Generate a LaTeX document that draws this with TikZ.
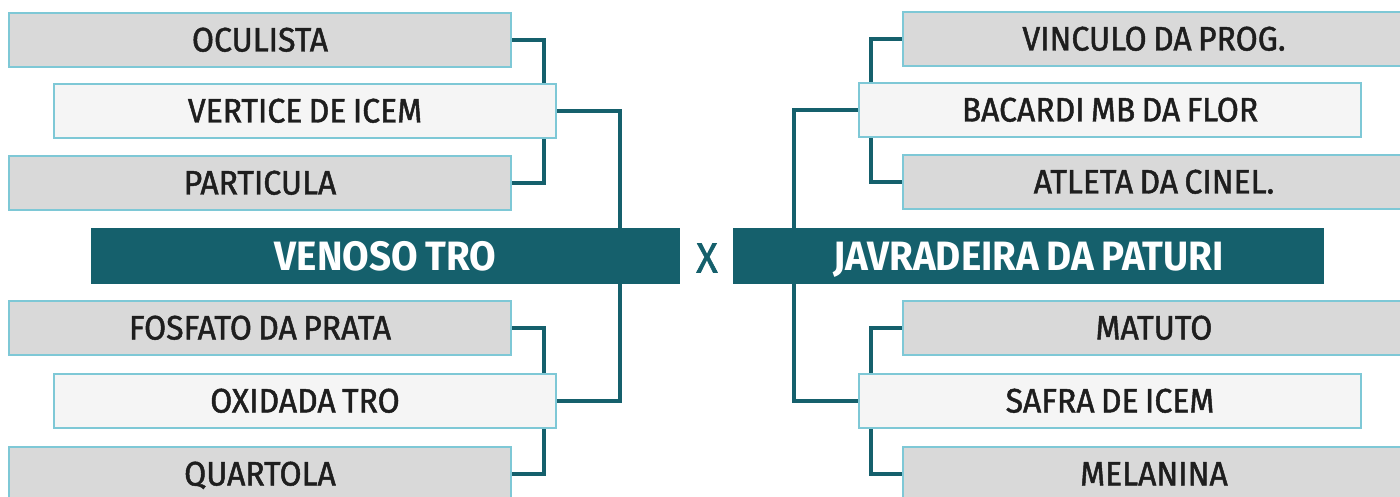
\documentclass[tikz,border=0pt]{standalone}
\usepackage{fontspec}
\setmainfont{Fira Sans}[FakeStretch=0.94, WordSpace=0.8]
\newfontfamily\boxfont{Fira Sans}[FakeStretch=0.94, FakeBold=1.4, WordSpace=0.75]
\usetikzlibrary{backgrounds}
\definecolor{teal1}{HTML}{15606C}
\definecolor{boxgray}{HTML}{D9D9D9}
\definecolor{boxlight}{HTML}{F5F5F5}
\definecolor{boxedge}{HTML}{7EC8D6}
\definecolor{txt}{HTML}{1E1E1E}
\tikzset{
  team/.style={draw=boxedge, line width=2pt, minimum width=502pt, minimum height=54pt,
    inner sep=0pt, text=txt, text height=23pt, text depth=0pt,
    font=\boxfont\fontsize{34}{34}\selectfont},
  teamgray/.style={team, fill=boxgray},
  teamlight/.style={team, fill=boxlight},
  header/.style={fill=teal1, minimum height=55pt, inner sep=0pt, text=white,
    text height=28pt, text depth=0pt,
    font=\fontsize{41}{41}\selectfont\bfseries},
  link/.style={draw=teal1, line width=4pt},
}
\begin{document}
\begin{tikzpicture}[x=1pt,y=-1pt]
\useasboundingbox (0,0) rectangle (1400,497);
% left
\node[teamgray]  (ocu) at (260,40)  {OCULISTA};
\node[teamlight] (ver) at (305,111) {VERTICE DE ICEM};
\node[teamgray]  (par) at (260,183) {PARTICULA};
\node[header, minimum width=589pt] (ven) at (385.5,256) {VENOSO TRO};
\node[teamgray]  (fos) at (260,328) {FOSFATO DA PRATA};
\node[teamlight] (oxi) at (305,401) {OXIDADA TRO};
\node[teamgray]  (qua) at (260,474) {QUARTOLA};
% right
\node[teamgray]  (vin) at (1154,39)  {VINCULO DA PROG.};
\node[teamlight] (bac) at (1110,110) {BACARDI MB DA FLOR};
\node[teamgray]  (atl) at (1154,182) {ATLETA DA CINEL.};
\node[header, minimum width=591pt] (jav) at (1028.5,256) {JAVRADEIRA DA PATURI};
\node[teamgray]  (mat) at (1154,328) {MATUTO};
\node[teamlight] (saf) at (1110,401) {SAFRA DE ICEM};
\node[teamgray]  (mel) at (1154,474) {MELANINA};
% versus
\node[text=teal1, font=\boxfont\fontsize{42}{42}\selectfont, inner sep=0pt] (vs) at (707,258) {X};
\begin{scope}[on background layer]
\draw[link] (ocu.east) -- ++(32,0) coordinate (c1) -- (c1 |- par.east) -- (par.east);
\draw[link] (ver.east) -- ++(63,0) coordinate (c2) -- (c2 |- ven.north);
\draw[link] (fos.east) -- ++(32,0) coordinate (c3) -- (c3 |- qua.east) -- (qua.east);
\draw[link] (oxi.east) -- ++(63,0) coordinate (c4) -- (c4 |- ven.south);
\draw[link] (vin.west) -- ++(-31,0) coordinate (c5) -- (c5 |- atl.west) -- (atl.west);
\draw[link] (bac.west) -- ++(-64,0) coordinate (c6) -- (c6 |- jav.north);
\draw[link] (mat.west) -- ++(-31,0) coordinate (c7) -- (c7 |- mel.west) -- (mel.west);
\draw[link] (saf.west) -- ++(-64,0) coordinate (c8) -- (c8 |- jav.south);
\end{scope}
\end{tikzpicture}
\end{document}
